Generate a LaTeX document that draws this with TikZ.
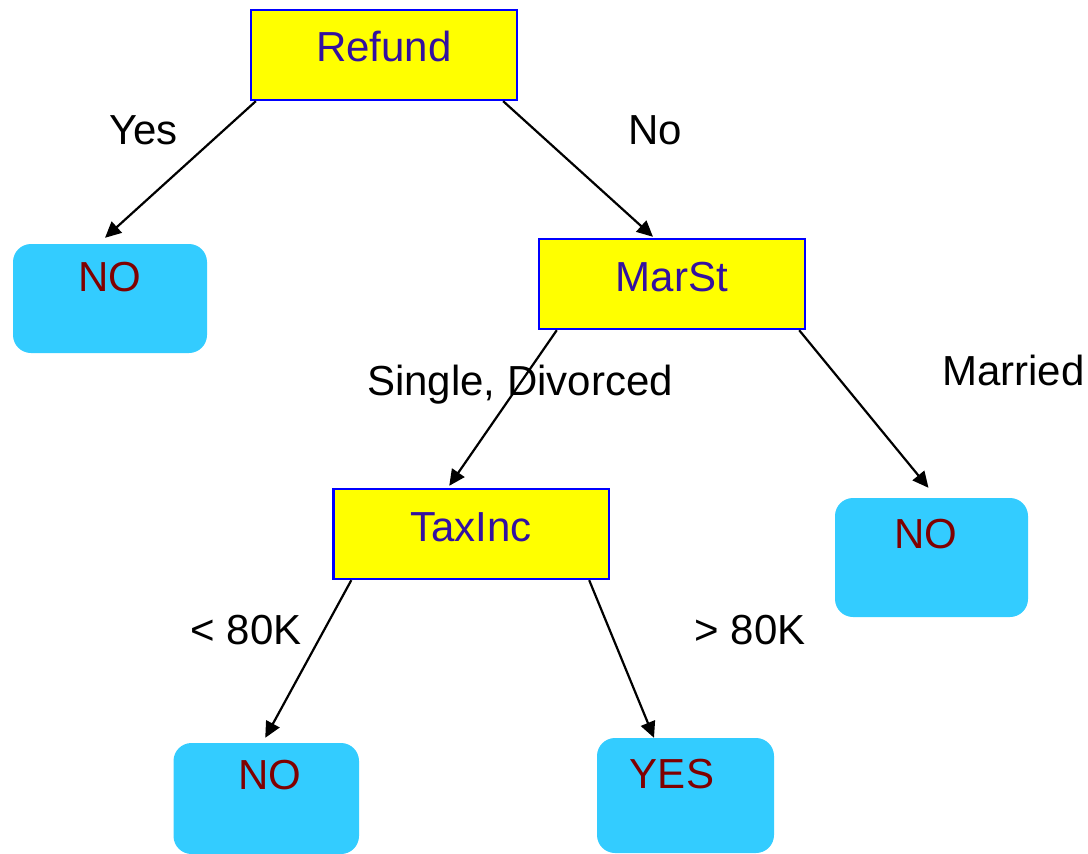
\documentclass[tikz,border=0pt]{standalone}
\usepackage{fontspec}
\setmainfont{Liberation Sans}
\usetikzlibrary{arrows.meta}
\definecolor{boxfill}{RGB}{255,255,0}
\definecolor{boxline}{RGB}{0,0,255}
\definecolor{boxtext}{RGB}{51,17,160}
\definecolor{leaffill}{RGB}{51,204,255}
\definecolor{leaftext}{RGB}{128,0,0}
\tikzset{
  txt/.style={font=\fontsize{42}{50}\selectfont},
  testbox/.style={txt, rectangle, draw=boxline, line width=2.4pt, fill=boxfill,
    text=boxtext, inner sep=0pt, text height=52pt, text depth=38pt},
  leafbox/.style={txt, rectangle, rounded corners=18pt, fill=leaffill,
    text=leaftext, inner sep=0pt},
  edgelabel/.style={txt, anchor=base west, inner sep=0pt, text=black},
  branch/.style={line width=2.2pt, -{Triangle[length=16pt,width=15pt]}}
}
\begin{document}
\begin{tikzpicture}[x=1pt,y=-1pt]
\useasboundingbox (0,0) rectangle (1088,854);
% test nodes
\node[testbox, minimum width=266pt, text height=51pt, text depth=39pt] (refund) at (384,55) {Refund};
\node[testbox, minimum width=266pt] (marst) at (672,284) {MarSt};
\node[testbox, minimum width=275.5pt] (taxinc) at (471.25,534) {TaxInc};
% leaves
\node[leafbox, minimum width=194pt, text height=47pt, text depth=62pt] (noA) at (110,298.5) {NO};
\node[leafbox, minimum width=193pt, text height=50pt, text depth=69pt] (noB) at (931.5,557.5) {\hspace*{-11pt}NO};
\node[leafbox, minimum width=185.5pt, text height=46pt, text depth=65pt] (noC) at (266.25,798.5) {\hspace*{7.5pt}NO};
\node[leafbox, minimum width=177pt, text height=50pt, text depth=65pt] (yes) at (685.5,795.5) {\hspace*{-27pt}YES};
% edge labels
\node[edgelabel] (lyes) at (109,144) {Yes};
\node[edgelabel] (lno) at (628,144) {No};
\node[edgelabel] (lsingle) at (367,395) {Single, Divorced};
\node[edgelabel] (lmarried) at (942,385) {Married};
\node[edgelabel] (llow) at (190.5,644) {< 80K};
\node[edgelabel] (lhigh) at (694.5,644) {> 80K};
% connectors
\draw[branch] ([xshift=6pt]refund.south west) -- ([xshift=-5pt,yshift=6pt]noA.north);
\draw[branch] ([xshift=-15pt]refund.south east) -- ([xshift=-19pt,yshift=1pt]marst.north);
\draw[branch] ([xshift=19pt]marst.south west) -- ([xshift=-22pt,yshift=2pt]taxinc.north);
\draw[branch] ([xshift=-7pt]marst.south east) -- ([xshift=-3pt,yshift=10pt]noB.north);
\draw[branch] ([xshift=19pt]taxinc.south west) -- ([xshift=-1pt,yshift=5pt]noC.north);
\draw[branch] ([xshift=-21pt]taxinc.south east) -- ([xshift=-31.5pt]yes.north);
\end{tikzpicture}
\end{document}
